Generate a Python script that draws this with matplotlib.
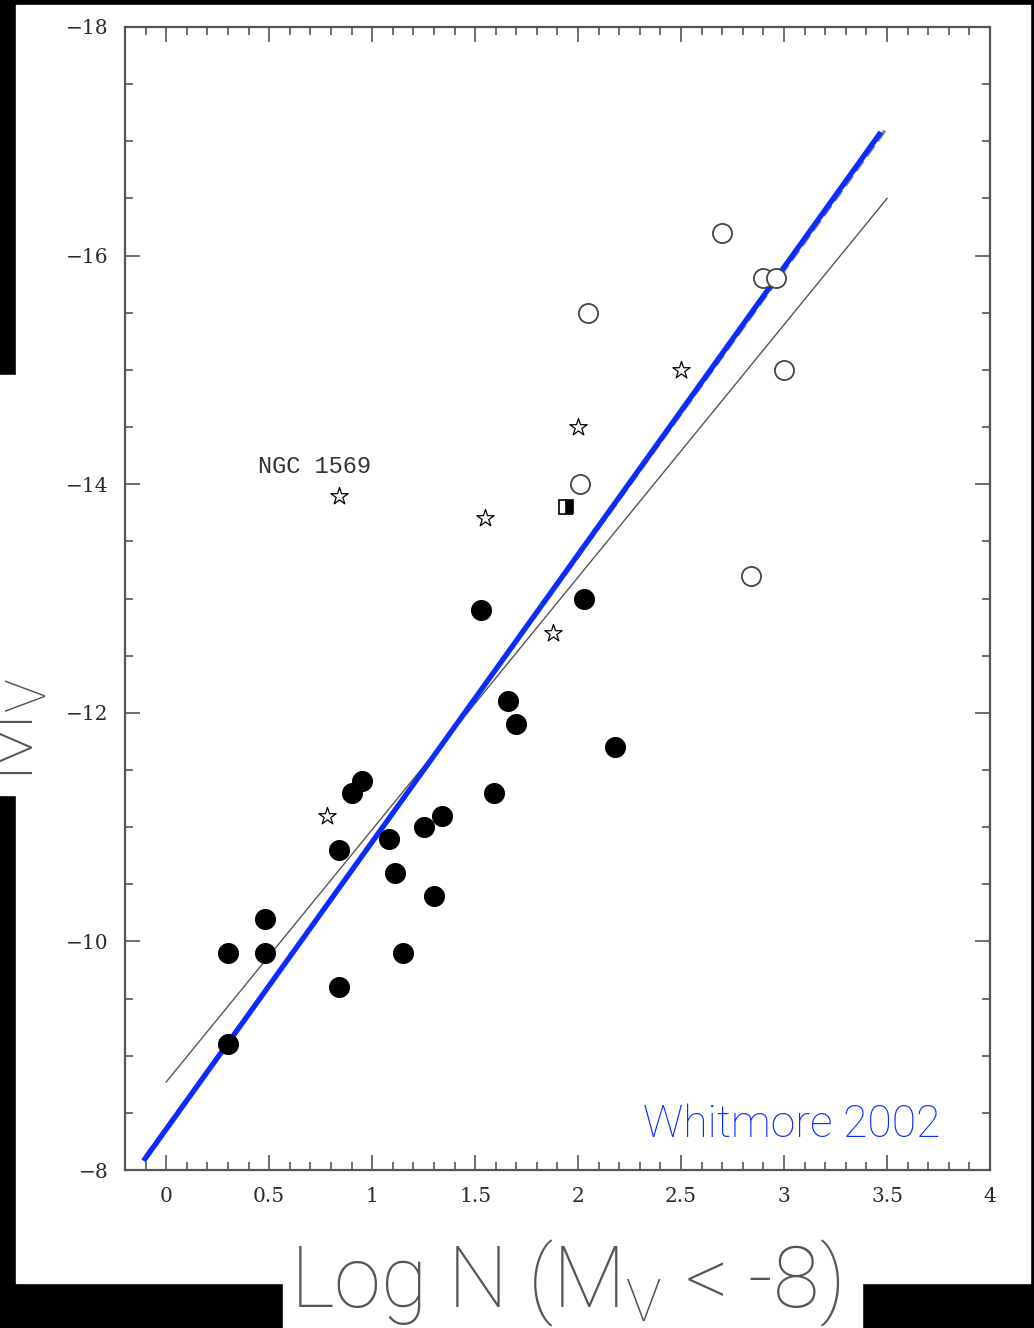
import matplotlib
matplotlib.use("Agg")
import matplotlib.pyplot as plt
from matplotlib.patches import Rectangle
from matplotlib.ticker import MultipleLocator

# filled circles
filled_x = [0.30, 0.30, 0.48, 0.48, 0.84, 0.84, 0.90, 0.95, 1.08, 1.11,
            1.15, 1.25, 1.30, 1.34, 1.53, 1.59, 1.66, 1.70, 2.03, 2.18]
filled_y = [-9.9, -9.1, -10.2, -9.9, -9.6, -10.8, -11.3, -11.4, -10.9, -10.6,
            -9.9, -11.0, -10.4, -11.1, -12.9, -11.3, -12.1, -11.9, -13.0, -11.7]

# open circles
open_x = [2.70, 2.90, 2.96, 2.05, 3.00, 2.01, 2.84]
open_y = [-16.2, -15.8, -15.8, -15.5, -15.0, -14.0, -13.2]

# stars
star_x = [0.84, 1.55, 2.00, 2.50, 1.88, 0.78]
star_y = [-13.9, -13.7, -14.5, -15.0, -12.7, -11.1]

# half-filled square
half_x = [1.94]
half_y = [-13.8]

# fit lines (end points)
thin_x = [0.0, 3.5]
thin_y = [-8.77, -16.5]
dash_x = [-0.10, 3.50]
dash_y = [-8.12, -17.12]
blue_x = [-0.11, 3.47]
blue_y = [-8.08, -17.08]

W, H = 1034, 1328
fig = plt.figure(figsize=(W / 100, H / 100), dpi=100)
fig.patch.set_facecolor("black")

# white slide panels
fig.add_artist(Rectangle((16 / W, 1 - 1283 / H), (1030 - 16) / W, (1283 - 5) / H,
                         transform=fig.transFigure, color="white", zorder=0))
fig.add_artist(Rectangle((0, 1 - 795 / H), 17 / W, (795 - 375) / H,
                         transform=fig.transFigure, color="white", zorder=0))
fig.add_artist(Rectangle((283 / W, 0), (862 - 283) / W, 1283 / H + 0.001,
                         transform=fig.transFigure, color="white", zorder=0))

ax = fig.add_axes([125 / W, 1 - 1170 / H, (990 - 125) / W, (1170 - 27) / H])
ax.set_facecolor("white")
ax.set_xlim(-0.2, 4.0)
ax.set_ylim(-8, -18)

edge = "#555555"
for s in ax.spines.values():
    s.set_color(edge)
    s.set_linewidth(1.6)

ax.xaxis.set_major_locator(MultipleLocator(0.5))
ax.xaxis.set_minor_locator(MultipleLocator(0.1))
ax.yaxis.set_major_locator(MultipleLocator(2))
ax.yaxis.set_minor_locator(MultipleLocator(0.5))
ax.tick_params(which="both", direction="in", top=True, right=True, color=edge, width=1.2)
ax.tick_params(which="major", length=11, labelsize=14.5, pad=12, labelcolor="#2a2a2a")
ax.tick_params(which="minor", length=5.5)
ax.set_xticks([0, 0.5, 1, 1.5, 2, 2.5, 3, 3.5, 4])
ax.set_xticklabels(["0", "0.5", "1", "1.5", "2", "2.5", "3", "3.5", "4"])
for lab in ax.get_xticklabels() + ax.get_yticklabels():
    lab.set_family("DejaVu Serif")

# lines
ax.plot(thin_x, thin_y, color="#555555", lw=1.0, zorder=2)
ax.plot(dash_x, dash_y, color="#888888", lw=2.5, ls="--", zorder=2)
ax.plot(blue_x, blue_y, color="#0a2cff", lw=3.8, solid_capstyle="butt", zorder=3)

# points
ax.scatter(filled_x, filled_y, s=200, color="black", zorder=4)
ax.scatter(open_x, open_y, s=190, facecolor="white", edgecolor="#444444", lw=1.3, zorder=4)
ax.scatter(star_x, star_y, s=170, marker="*", facecolor="white", edgecolor="black", lw=0.9, zorder=4)
ax.plot(half_x, half_y, marker="s", ms=10, fillstyle="right", color="black",
        markerfacecoloralt="white", mec="black", mew=1.2, ls="none", zorder=4)

ax.text(0.72, -14.1, "NGC 1569", family="Liberation Mono", fontsize=17,
        color="#333333", ha="center", va="baseline")
ax.text(3.757, -8.29, "Whitmore 2002", family="Roboto", fontweight="light",
        fontsize=32, color="#0a2cff", ha="right", va="baseline")

# slide axis titles
fig.text(565 / W, 1 - 1307 / H, r"Log N (M$_\mathregular{V}$ < -8)", family="Roboto",
         fontweight="light", fontsize=61, color="#555555", ha="center", va="baseline")
fig.text(34 / W, 1 - 782 / H, r"M$_\mathregular{V}$", family="Roboto", fontweight="light",
         fontsize=58, color="#555555", rotation=90, ha="left", va="baseline",
         rotation_mode="anchor")

fig.savefig("out.png", dpi=100, facecolor=fig.get_facecolor())
